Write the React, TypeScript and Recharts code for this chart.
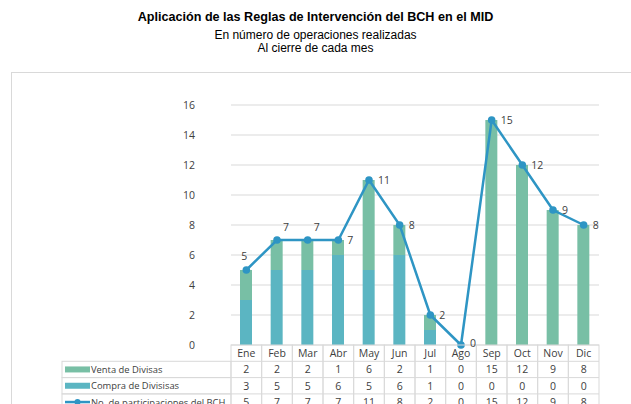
import { Bar, CartesianGrid, ComposedChart, LabelList, Line, XAxis, YAxis } from 'recharts'

const months = ['Ene', 'Feb', 'Mar', 'Abr', 'May', 'Jun', 'Jul', 'Ago', 'Sep', 'Oct', 'Nov', 'Dic']
const ventaDivisas = [2, 2, 2, 1, 6, 2, 1, 0, 15, 12, 9, 8]
const compraDivisas = [3, 5, 5, 6, 5, 6, 1, 0, 0, 0, 0, 0]
const participaciones = [5, 7, 7, 7, 11, 8, 2, 0, 15, 12, 9, 8]
const yTicks = [0, 2, 4, 6, 8, 10, 12, 14, 16]

const VENTA = '#78bfa5'
const COMPRA = '#5bb5c2'
const LINEA = '#2e95c4'
const GRID = '#d9d9d9'
const TEXT = '#404040'
const FONT = "'Open Sans', 'Noto Sans', sans-serif"

const data = months.map((m, i) => ({
  mes: m,
  venta: ventaDivisas[i],
  compra: compraDivisas[i],
  total: participaciones[i],
}))

const PLOT_LEFT = 231
const PLOT_RIGHT = 599
const COL_W = (PLOT_RIGHT - PLOT_LEFT) / months.length
const ROW_H = 16.3

// month label + the data table column under it
const TableTick = ({ x, y, payload, index }: any) => {
  const i = index ?? months.indexOf(payload.value)
  const rows = [payload.value, ventaDivisas[i], compraDivisas[i], participaciones[i]]
  const left = x - COL_W / 2
  return (
    <g>
      <rect x={left} y={y} width={COL_W} height={ROW_H * 4} fill="none" stroke={GRID} strokeWidth={1} />
      {[1, 2, 3].map((r) => (
        <line key={r} x1={left} x2={left + COL_W} y1={y + ROW_H * r} y2={y + ROW_H * r} stroke={GRID} />
      ))}
      {rows.map((v, r) => (
        <text
          key={r}
          x={x}
          y={y + ROW_H * r + 12}
          textAnchor="middle"
          fontSize={10.5}
          fontFamily={FONT}
          fill={TEXT}
        >
          {v}
        </text>
      ))}
    </g>
  )
}

const PointLabel = (props: any) => {
  const { x, y, value, index } = props
  let dx = 9
  let dy = 4
  let anchor: 'start' | 'middle' = 'start'
  if (index === 0) {
    dx = -2
    dy = -10
    anchor = 'middle'
  } else if (index === 1 || index === 2) {
    dx = 6
    dy = -9
  } else if (index === 7) {
    dy = 2
  }
  return (
    <text x={x + dx} y={y + dy} textAnchor={anchor} fontSize={10.5} fontFamily={FONT} fill={TEXT}>
      {value}
    </text>
  )
}

const legendRows = [
  { label: 'Venta de Divisas', color: VENTA, kind: 'bar' },
  { label: 'Compra de Divisisas', color: COMPRA, kind: 'bar' },
  { label: 'No. de participaciones del BCH', color: LINEA, kind: 'line' },
]

export default function App() {
  return (
    <div
      style={{
        position: 'absolute',
        left: 0,
        top: 0,
        width: 631,
        height: 404,
        overflow: 'hidden',
        background: '#fff',
      }}
    >
      <div
        style={{
          position: 'absolute',
          top: 10,
          width: 631,
          textAlign: 'center',
          fontFamily: "'Liberation Sans', Arial, sans-serif",
          color: '#000',
        }}
      >
        <div style={{ fontSize: 12.6, fontWeight: 'bold', lineHeight: '15px' }}>
          Aplicación de las Reglas de Intervención del BCH en el MID
        </div>
        <div style={{ fontSize: 12, lineHeight: '13px', marginTop: 4 }}>En número de operaciones realizadas</div>
        <div style={{ fontSize: 12, lineHeight: '13px' }}>Al cierre de cada mes</div>
      </div>

      <div
        style={{
          position: 'absolute',
          left: 11,
          top: 72,
          width: 700,
          height: 400,
          border: '1px solid #d9d9d9',
        }}
      />

      <ComposedChart
        width={631}
        height={404}
        data={data}
        margin={{ top: 105, right: 631 - PLOT_RIGHT, bottom: 0, left: PLOT_LEFT - 40 }}
        style={{ position: 'absolute', left: 0, top: 0 }}
      >
        <CartesianGrid vertical={false} stroke={GRID} strokeWidth={1} />
        <YAxis
          domain={[0, 16]}
          ticks={yTicks}
          width={40}
          axisLine={false}
          tickLine={false}
          tickSize={0}
          tickMargin={36}
          tick={{ fontSize: 10.5, fontFamily: FONT, fill: TEXT }}
        />
        <XAxis
          dataKey="mes"
          height={59}
          axisLine={false}
          tickLine={false}
          tickSize={0}
          tickMargin={0}
          interval={0}
          tick={<TableTick />}
        />
        <Bar dataKey="compra" stackId="a" fill={COMPRA} barSize={12} isAnimationActive={false} />
        <Bar dataKey="venta" stackId="a" fill={VENTA} barSize={12} isAnimationActive={false} />
        <Line
          dataKey="total"
          stroke={LINEA}
          strokeWidth={2.5}
          dot={{ r: 3.8, fill: LINEA, stroke: LINEA, strokeWidth: 0 }}
          isAnimationActive={false}
        >
          <LabelList dataKey="total" content={<PointLabel />} />
        </Line>
      </ComposedChart>

      <svg style={{ position: 'absolute', left: 0, top: 0 }} width={PLOT_LEFT + 1} height={404}>
        {legendRows.map((row, r) => {
          const top = 345 + ROW_H * (r + 1)
          const mid = top + ROW_H / 2
          return (
            <g key={row.label}>
              <rect x={62} y={top} width={PLOT_LEFT - 62} height={ROW_H} fill="none" stroke={GRID} />
              {row.kind === 'bar' ? (
                <rect x={65} y={mid - 3} width={25} height={6} fill={row.color} />
              ) : (
                <g>
                  <line x1={65} x2={90} y1={mid} y2={mid} stroke={row.color} strokeWidth={2.5} />
                  <circle cx={77.5} cy={mid} r={3} fill={row.color} />
                </g>
              )}
              <text x={91} y={mid + 3.5} fontSize={9.4} fontFamily={FONT} fill={TEXT}>
                {row.label}
              </text>
            </g>
          )
        })}
      </svg>
    </div>
  )
}
